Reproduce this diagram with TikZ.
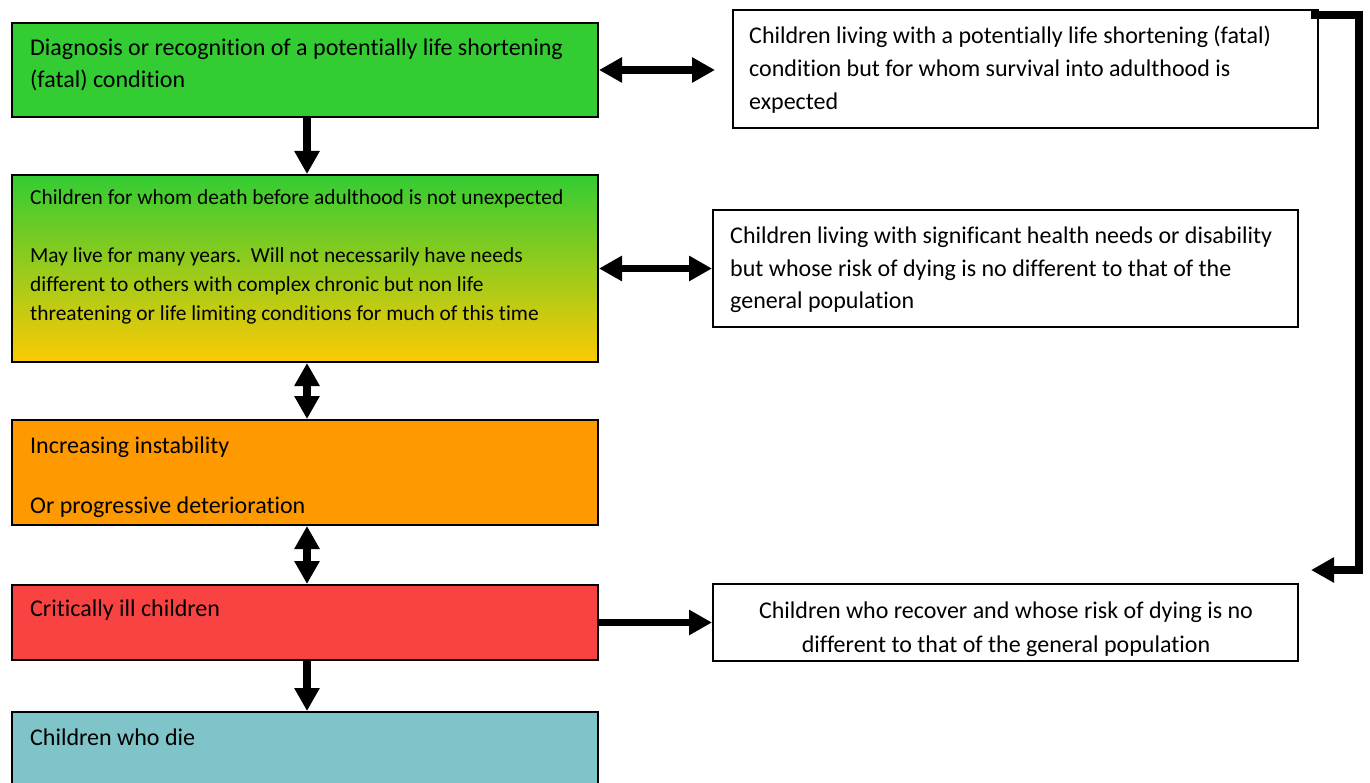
\documentclass[tikz,border=0pt]{standalone}
\usepackage{fontspec}
\setmainfont[Ligatures=NoCommon]{Carlito}
\usetikzlibrary{arrows.meta}
\definecolor{cgreen}{RGB}{51,204,51}
\definecolor{cyellow}{RGB}{252,202,4}
\definecolor{corange}{RGB}{255,153,0}
\definecolor{cred}{RGB}{249,67,67}
\definecolor{cteal}{RGB}{127,196,200}
\tikzset{
  box/.style={draw=black, line width=2pt, rectangle, inner sep=0pt, minimum width=586pt},
  rbox/.style={draw=black, line width=2pt, rectangle, inner sep=0pt, fill=white},
  txt/.style={anchor=base west, inner sep=0pt, align=left, font=\fontsize{24}{32}\selectfont},
  stxt/.style={anchor=base west, inner sep=0pt, align=left, font=\fontsize{21.4}{29}\selectfont},
  fat/.style={line width=7.5pt, -{Triangle[length=23pt,width=24pt]}},
  fatboth/.style={line width=7.5pt, {Triangle[length=23pt,width=24pt]}-{Triangle[length=23pt,width=24pt]}},
}
\begin{document}
\begin{tikzpicture}[x=1pt,y=1pt]
\useasboundingbox (0,0) rectangle (1370,-783);
% left column boxes
\node[box, fill=cgreen, minimum height=94pt] (b1) at (305,-70) {};
\node[box, top color=cgreen, bottom color=cyellow, minimum height=187pt] (b2) at (305,-268.5) {};
\node[box, fill=corange, minimum height=105pt] (b3) at (305,-472.5) {};
\node[box, fill=cred, minimum height=75pt] (b4) at (305,-622.5) {};
\node[box, fill=cteal, minimum height=90pt] (b5) at (305,-757) {};
% left texts (base = last line)
\node[txt] (t1) at (30,-88) {Diagnosis or recognition of a potentially life shortening\\(fatal) condition};
\node[stxt] (t2) at (30,-321) {Children for whom death before adulthood is not unexpected\\[29pt]May live for many years.\ \ Will not necessarily have needs\\different to others with complex chronic but non life\\threatening or life limiting conditions for much of this time};
\node[txt, font=\fontsize{24}{30}\selectfont] (t3) at (30,-513) {Increasing instability\\[30pt]Or progressive deterioration};
\node[txt] (t4) at (30,-616) {Critically ill children};
\node[txt] (t5) at (30,-745) {Children who die};
% right boxes
\node[rbox, minimum width=585pt, minimum height=118pt] (r1) at (1025.5,-69) {};
\node[rbox, minimum width=585pt, minimum height=117pt] (r2) at (1005.5,-268.5) {};
\node[rbox, minimum width=585pt, minimum height=77pt] (r3) at (1005.5,-622.5) {};
\node[txt, font=\fontsize{24}{33}\selectfont] (rt1) at (749,-110) {Children living with a potentially life shortening (fatal)\\condition but for whom survival into adulthood is\\expected};
\node[txt, font=\fontsize{24}{32.5}\selectfont] (rt2) at (730,-309) {Children living with significant health needs or disability\\but whose risk of dying is no different to that of the\\general population};
\node[txt, anchor=base, align=center, font=\fontsize{24}{34}\selectfont] (rt3) at (1006,-652) {Children who recover and whose risk of dying is no\\different to that of the general population};
% connectors
\coordinate (a1end) at (715,-70);
\draw[fatboth] (b1.east) -- (a1end);
\draw[fat] (b1.south -| 307,0) -- (b2.north -| 307,0);
\draw[fatboth] (b2.east) -- (r2.west);
\draw[fatboth] (b2.south -| 307,0) -- (b3.north -| 307,0);
\draw[fatboth] (b3.south -| 307,0) -- (b4.north -| 307,0);
\draw[fat] (b4.east) -- (r3.west);
\draw[fat] (b4.south -| 307,0) -- (b5.north -| 307,0);
\coordinate (elbowstart) at (1311,-15.5);
\coordinate (elbowend) at (1311,-570);
\draw[line width=8pt, -{Triangle[length=23pt,width=24pt]}] (elbowstart) -- (1359,-15.5) -- (1359,-570) -- (elbowend);
\end{tikzpicture}
\end{document}
